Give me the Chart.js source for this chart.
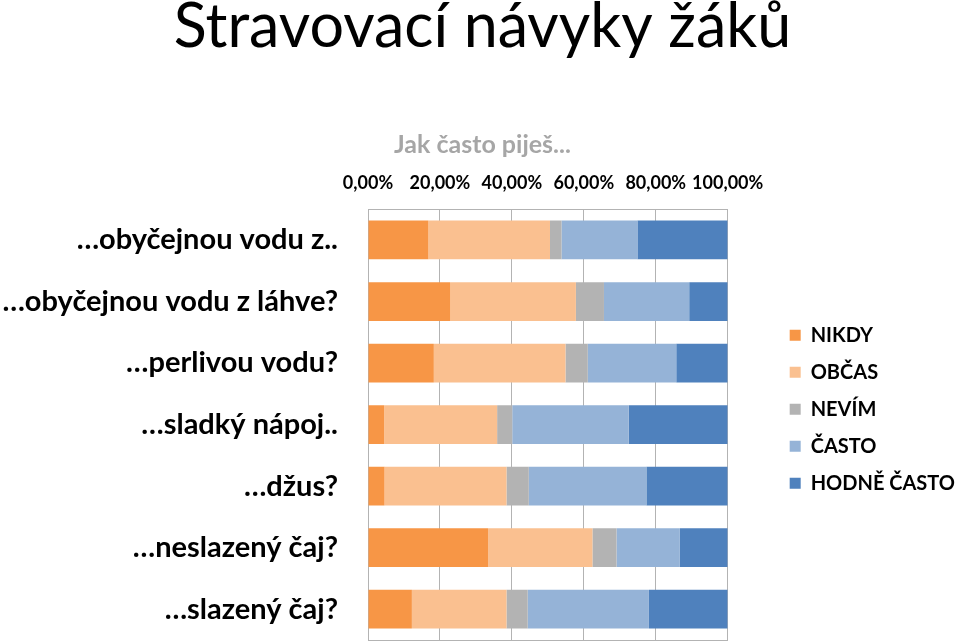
<!DOCTYPE html>
<html>
<head>
<meta charset="utf-8">
<script src="https://cdn.jsdelivr.net/npm/chart.js@4"></script>
<style>
  html, body { margin: 0; padding: 0; background: #fff; }
</style>
</head>
<body>
<canvas id="chart" width="960" height="642"></canvas>
<script>
// data (percent of pupils)
const categories = ['…obyčejnou vodu z..', '…obyčejnou vodu z láhve?', '…perlivou vodu?', '…sladký nápoj..', '…džus?', '…neslazený čaj?', '…slazený čaj?'];
const seriesNames = ['NIKDY', 'OBČAS', 'NEVÍM', 'ČASTO', 'HODNĚ ČASTO'];
const nikdy = [16.8, 22.8, 18.3, 4.5, 4.6, 33.4, 12.2];
const obcas = [33.8, 35.0, 36.6, 31.4, 33.9, 29.0, 26.3];
const nevim = [3.2, 7.8, 6.2, 4.2, 6.2, 6.7, 5.9];
const casto = [21.1, 23.7, 24.6, 32.4, 32.7, 17.6, 33.7];
const hodneCasto = [25.1, 10.7, 14.3, 27.5, 22.6, 13.3, 21.9];
const colors = ['#f79646', '#fac090', '#b3b3b3', '#95b3d7', '#4f81bd'];

const font = 'Lato';
const lineColor = '#b3b3b3';
const values = [nikdy, obcas, nevim, casto, hodneCasto];

const ctx = document.getElementById('chart').getContext('2d');
const chart = new Chart(ctx, {
    type: 'bar',
    data: {
        labels: categories,
        datasets: values.map((v, i) => ({
            label: seriesNames[i],
            data: v,
            backgroundColor: colors[i],
            borderWidth: 0,
            barPercentage: 0.63,
            categoryPercentage: 1
        }))
    },
    options: {
        indexAxis: 'y',
        responsive: false,
        animation: false,
        layout: { padding: { bottom: 2, right: -5 } },
        scales: {
            x: {
                position: 'top',
                stacked: true,
                min: 0,
                max: 100,
                ticks: {
                    stepSize: 20,
                    padding: 15,
                    autoSkip: false,
                    maxRotation: 0,
                    color: '#000',
                    font: { family: font, size: 18, weight: 'bold' },
                    callback: v => v.toFixed(2).replace('.', ',') + '%'
                },
                grid: { color: lineColor, lineWidth: 1, drawTicks: false },
                border: { display: true, color: lineColor }
            },
            // bottom edge line of the plot
            frame: {
                axis: 'x',
                type: 'linear',
                position: 'bottom',
                min: 0,
                max: 100,
                grid: { display: false },
                ticks: { display: false },
                border: { display: true, color: lineColor },
                afterFit: s => { s.height = 0; }
            },
            y: {
                stacked: true,
                grid: { display: false },
                border: { display: true, color: lineColor },
                ticks: {
                    padding: 22,
                    color: '#000',
                    font: { family: font, size: 29, weight: 'bold' }
                },
                afterFit: s => { s.width = 368; s.paddingTop = 0; s.paddingBottom = 0; }
            },
            // empty box that keeps the gap between plot and legend
            gap: {
                axis: 'y',
                type: 'linear',
                position: 'right',
                grid: { display: false },
                border: { display: false },
                ticks: { display: false },
                afterFit: s => { s.width = 45; }
            }
        },
        plugins: {
            title: {
                display: true,
                text: 'Stravovací návyky žáků',
                color: '#000',
                font: { family: font, size: 61, weight: 'normal', lineHeight: 0.9 },
                padding: { top: 0, bottom: 77.7 }
            },
            subtitle: {
                display: true,
                text: 'Jak často piješ...',
                color: '#a6a6a6',
                font: { family: font, size: 25, weight: 'bold', lineHeight: 1 },
                padding: { top: 0, bottom: 0 }
            },
            legend: {
                position: 'right',
                maxWidth: 240,
                // empty legend title only pushes the entries down
                title: { display: true, text: '', padding: { top: 164, bottom: 0 } },
                labels: {
                    boxWidth: 11,
                    boxHeight: 11,
                    padding: 17,
                    color: '#000',
                    font: { family: font, size: 20, weight: 'bold' }
                }
            },
            tooltip: { enabled: false }
        }
    }
});
</script>
</body>
</html>
